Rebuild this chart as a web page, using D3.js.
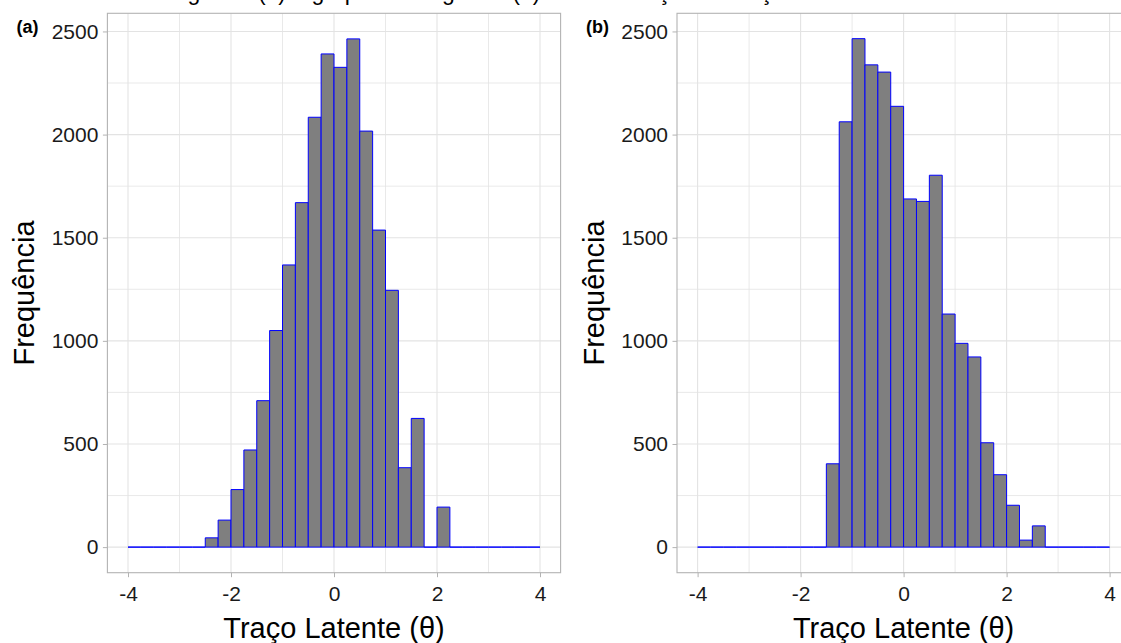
<!DOCTYPE html>
<html>
<head>
<meta charset="utf-8">
<script src="https://cdn.jsdelivr.net/npm/d3@7"></script>
<style>
  html, body { margin: 0; padding: 0; background: #fff; overflow: hidden; }
  svg { display: block; font-family: "Liberation Sans", Arial, sans-serif; }
</style>
</head>
<body>
<script>
// bin starts (width 0.25) from -4 to 3.75
const binStarts = [
  -4, -3.75, -3.5, -3.25, -3, -2.75, -2.5, -2.25,
  -2, -1.75, -1.5, -1.25, -1, -0.75, -0.5, -0.25,
  0, 0.25, 0.5, 0.75, 1, 1.25, 1.5, 1.75,
  2, 2.25, 2.5, 2.75, 3, 3.25, 3.5, 3.75
];
const binWidth = 0.25;

const countsA = [
  0, 0, 0, 0, 0, 0, 45, 131,
  279, 471, 710, 1050, 1368, 1670, 2084, 2391,
  2326, 2464, 2017, 1537, 1245, 385, 624, 0,
  194, 0, 0, 0, 0, 0, 0, 0
];
const countsB = [
  0, 0, 0, 0, 0, 0, 0, 0,
  0, 0, 404, 2062, 2465, 2338, 2303, 2137,
  1688, 1676, 1803, 1130, 988, 922, 506, 351,
  203, 34, 103, 0, 0, 0, 0, 0
];

const xTicks = [-4, -2, 0, 2, 4];
const xMinor = [-3, -1, 1, 3];
const yTicks = [0, 500, 1000, 1500, 2000, 2500];
const yMinor = [250, 750, 1250, 1750, 2250];

const panelLabels = ["(a)", "(b)"];
const xTitle = "Traço Latente (θ)";
const yTitle = "Frequência";
const topCaption = "homogêneo (a) e grupo heterogêneo (b) da distribuição do traço latente";

const width = 1121;
const height = 643;

const svg = d3.select("body").append("svg")
  .attr("width", width)
  .attr("height", height);

// caption: in the reference only the bottom of its glyphs shows at the top edge
svg.append("text")
  .attr("x", 130)
  .attr("y", -0.5)
  .attr("font-size", "23px")
  .attr("fill", "#000")
  .text(topCaption);

const grey = "#b3b3b3";
const gridCol = "#e3e3e3";

const drawPanel = (counts, left, label) => {
  const top = 13.3;
  const bottom = 572.7;
  const right = left + 453.2;

  const x = d3.scaleLinear().domain([-4.4, 4.4]).range([left, right]);
  const y = d3.scaleLinear().domain([-124, 2588]).range([bottom, top]);

  const g = svg.append("g");

  // minor grid
  g.append("g").selectAll("line").data(xMinor).join("line")
    .attr("x1", (d) => x(d)).attr("x2", (d) => x(d))
    .attr("y1", top).attr("y2", bottom)
    .attr("stroke", gridCol).attr("stroke-width", 0.8);
  g.append("g").selectAll("line").data(yMinor).join("line")
    .attr("x1", left).attr("x2", right)
    .attr("y1", (d) => y(d)).attr("y2", (d) => y(d))
    .attr("stroke", gridCol).attr("stroke-width", 0.8);

  // major grid
  g.append("g").selectAll("line").data(xTicks).join("line")
    .attr("x1", (d) => x(d)).attr("x2", (d) => x(d))
    .attr("y1", top).attr("y2", bottom)
    .attr("stroke", gridCol).attr("stroke-width", 1.1);
  g.append("g").selectAll("line").data(yTicks).join("line")
    .attr("x1", left).attr("x2", right)
    .attr("y1", (d) => y(d)).attr("y2", (d) => y(d))
    .attr("stroke", gridCol).attr("stroke-width", 1.1);

  // bars as closed paths so empty bins still show their outline on 0
  g.append("g").selectAll("path")
    .data(counts.map((c, i) => ({ x0: binStarts[i], c })))
    .join("path")
    .attr("d", (d) => {
      const x0 = x(d.x0), x1 = x(d.x0 + binWidth);
      const y0 = y(0), y1 = y(d.c);
      return `M${x0},${y0}V${y1}H${x1}V${y0}Z`;
    })
    .attr("fill", "#7f7f7f")
    .attr("stroke", "#0000ff")
    .attr("stroke-width", 1);

  // panel border
  g.append("rect")
    .attr("x", left).attr("y", top)
    .attr("width", right - left).attr("height", bottom - top)
    .attr("fill", "none")
    .attr("stroke", grey)
    .attr("stroke-width", 1.1);

  // y axis
  const yAxis = g.append("g")
    .attr("transform", `translate(${left},0)`)
    .call(d3.axisLeft(y).tickValues(yTicks).tickSize(4.5).tickPadding(4.5).tickFormat(d3.format("d")));
  yAxis.select(".domain").remove();
  yAxis.selectAll(".tick line").attr("stroke", grey);
  yAxis.selectAll(".tick text")
    .attr("font-size", "21px")
    .attr("font-family", "Liberation Sans, Arial, sans-serif")
    .attr("fill", "#1a1a1a");

  // x axis
  const xAxis = g.append("g")
    .attr("transform", `translate(0,${bottom})`)
    .call(d3.axisBottom(x).tickValues(xTicks).tickSize(4.5).tickPadding(9).tickFormat(d3.format("d")));
  xAxis.select(".domain").remove();
  xAxis.selectAll(".tick line").attr("stroke", grey);
  xAxis.selectAll(".tick text")
    .attr("font-size", "21px")
    .attr("font-family", "Liberation Sans, Arial, sans-serif")
    .attr("fill", "#1a1a1a")
    .text((d) => (d < 0 ? "-" + Math.abs(d) : d));

  // axis titles
  g.append("text")
    .attr("x", (left + right) / 2)
    .attr("y", 638)
    .attr("text-anchor", "middle")
    .attr("font-size", "29px")
    .attr("fill", "#000")
    .text(xTitle);

  g.append("text")
    .attr("transform", `translate(${left - 73},${(top + bottom) / 2}) rotate(-90)`)
    .attr("text-anchor", "middle")
    .attr("font-size", "29px")
    .attr("fill", "#000")
    .text(yTitle);

  // panel tag
  g.append("text")
    .attr("x", left - 91)
    .attr("y", 33)
    .attr("font-size", "18px")
    .attr("font-weight", "bold")
    .attr("fill", "#000")
    .text(label);
};

drawPanel(countsA, 107.4, panelLabels[0]);
drawPanel(countsB, 677, panelLabels[1]);
</script>
</body>
</html>
